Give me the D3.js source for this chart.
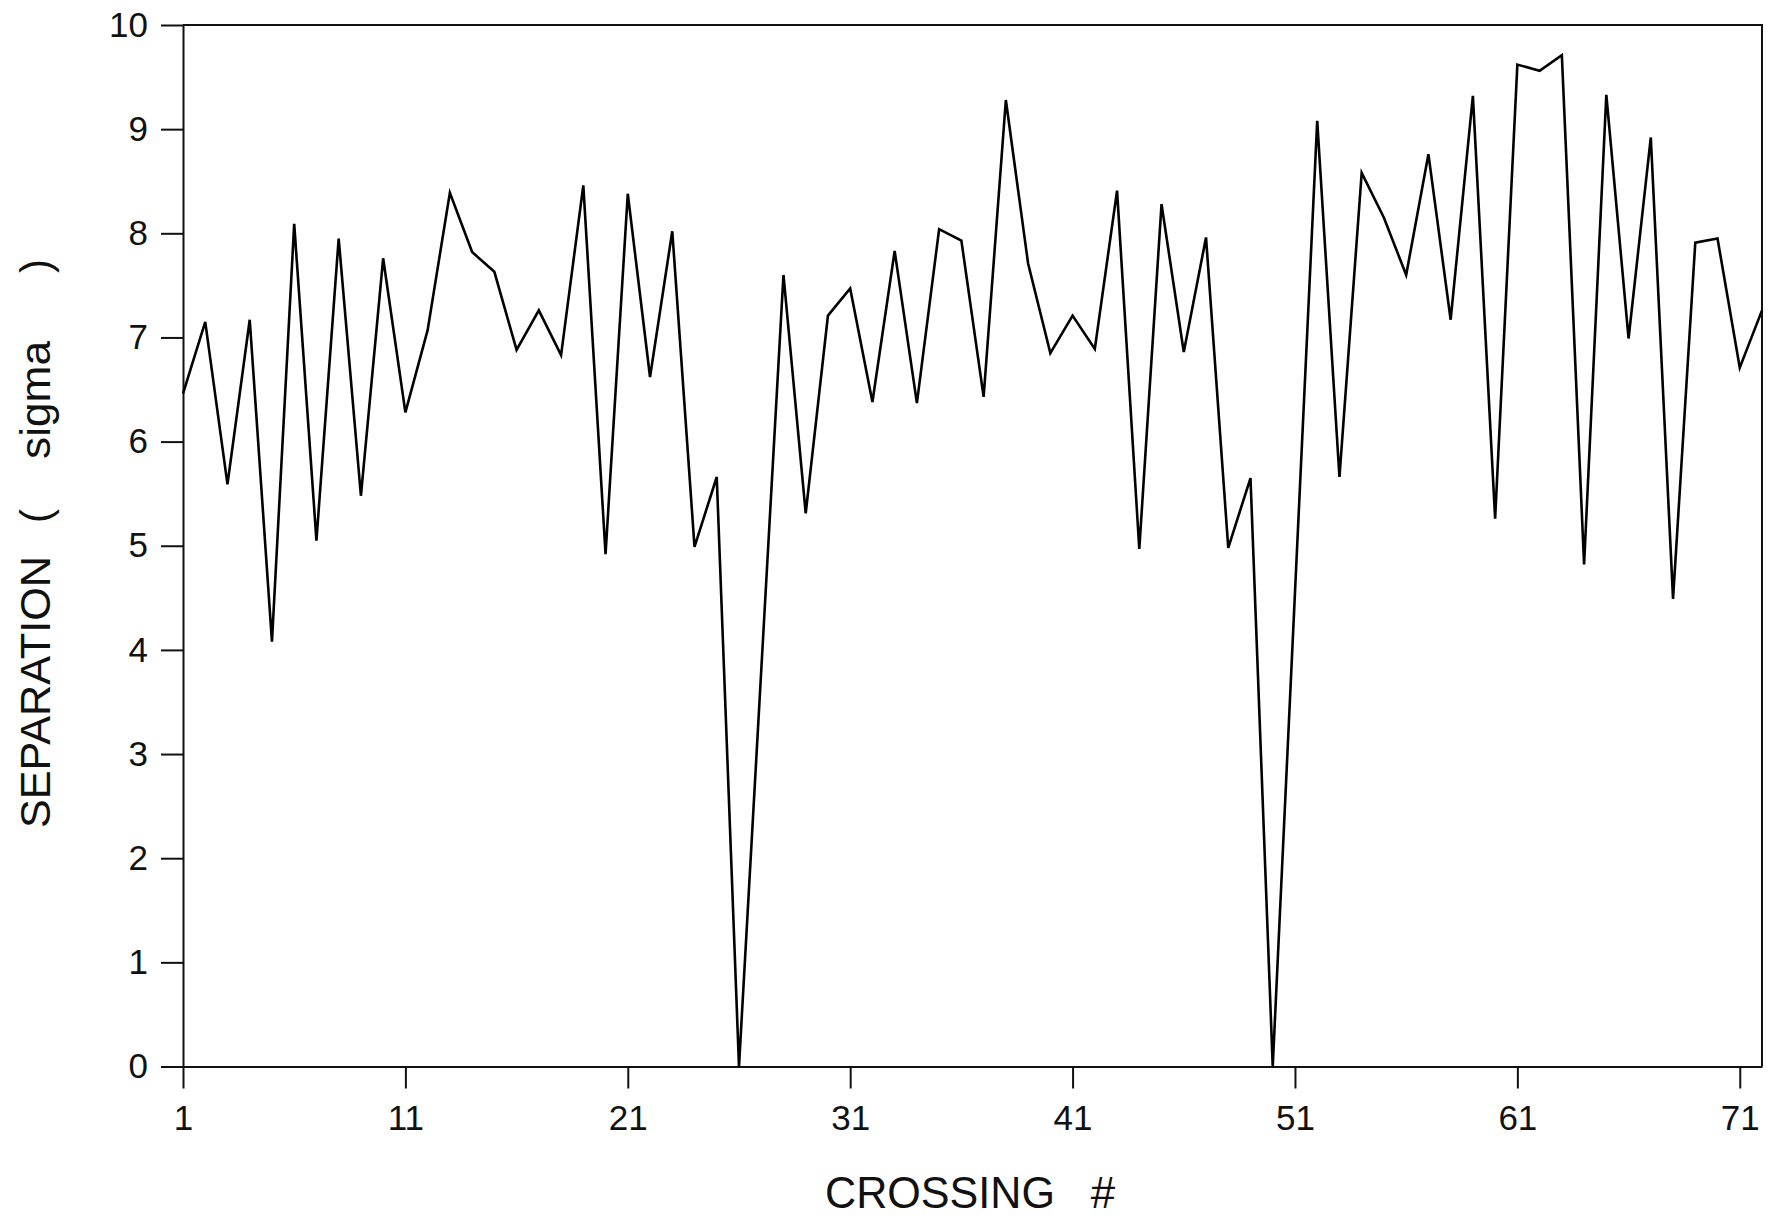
<!DOCTYPE html>
<html>
<head>
<meta charset="utf-8">
<script src="https://cdn.jsdelivr.net/npm/d3@7"></script>
<style>
  html, body { margin: 0; padding: 0; background: #fff; }
  svg { display: block; }
  text { font-family: "Liberation Sans", Arial, sans-serif; fill: #111; }
</style>
</head>
<body>
<svg id="chart" width="1779" height="1218"></svg>
<script>
// Data: crossing number and separation (sigma)
const crossings = d3.range(1, 73);
const separation = [
  6.46, 7.15, 5.59, 7.17, 4.08, 8.09, 5.05, 7.95, 5.48, 7.76,
  6.28, 7.07, 8.39, 7.82, 7.63, 6.88, 7.26, 6.83, 8.46, 4.92,
  8.38, 6.62, 8.02, 4.99, 5.66, 0.00, 3.80, 7.60, 5.31, 7.21,
  7.47, 6.38, 7.83, 6.37, 8.04, 7.93, 6.43, 9.28, 7.71, 6.85,
  7.21, 6.89, 8.41, 4.97, 8.28, 6.86, 7.96, 4.98, 5.65, 0.00,
  4.55, 9.08, 5.66, 8.58, 8.15, 7.60, 8.76, 7.17, 9.32, 5.26,
  9.62, 9.56, 9.71, 4.82, 9.33, 6.99, 8.92, 4.49, 7.91, 7.95,
  6.71, 7.26
];
const xTickValues = [1, 11, 21, 31, 41, 51, 61, 71];
const yTickValues = [0, 1, 2, 3, 4, 5, 6, 7, 8, 9, 10];
const xTitleParts = ["CROSSING", "#"];
const yTitleParts = ["SEPARATION", "(", "sigma", ")"];

const data = crossings.map((c, i) => ({ x: c, y: separation[i] }));

const svg = d3.select("#chart");
const mLeft = 183, mRight = 1762, mTop = 25, mBottom = 1066.5;

const x = d3.scaleLinear().domain([1, 72]).range([mLeft, mRight]);
const y = d3.scaleLinear().domain([0, 10]).range([mBottom, mTop]);

// frame (top and right borders)
svg.append("path")
  .attr("d", `M${mLeft},${mTop}H${mRight}V${mBottom}`)
  .attr("fill", "none").attr("stroke", "#111").attr("stroke-width", 2);

// y axis
const yAxis = svg.append("g")
  .attr("transform", `translate(${mLeft},0)`)
  .call(d3.axisLeft(y).tickValues(yTickValues).tickFormat(d3.format("d"))
    .tickSizeInner(22).tickSizeOuter(0).tickPadding(13));
yAxis.selectAll("text").attr("font-size", 35).attr("font-family", "Liberation Sans, Arial, sans-serif").attr("fill", "#111");
yAxis.selectAll("line, path").attr("stroke", "#111").attr("stroke-width", 2);

// x axis
const xAxis = svg.append("g")
  .attr("transform", `translate(0,${mBottom})`)
  .call(d3.axisBottom(x).tickValues(xTickValues).tickFormat(d3.format("d"))
    .tickSizeInner(22).tickSizeOuter(0).tickPadding(17));
xAxis.selectAll("text").attr("font-size", 35).attr("font-family", "Liberation Sans, Arial, sans-serif").attr("fill", "#111");
xAxis.selectAll("line, path").attr("stroke", "#111").attr("stroke-width", 2);

// data line
const line = d3.line().x(d => x(d.x)).y(d => y(d.y));
svg.append("path")
  .datum(data)
  .attr("d", line)
  .attr("fill", "none")
  .attr("stroke", "#000")
  .attr("stroke-width", 2.6)
  .attr("stroke-linejoin", "miter");

// x title pieces
const xTitleLayout = [
  { cx: 940, len: 230 },
  { cx: 1103, len: null }
];
xTitleParts.forEach((t, i) => {
  const el = svg.append("text")
    .attr("x", xTitleLayout[i].cx).attr("y", 1208)
    .attr("text-anchor", "middle")
    .attr("font-size", 44)
    .text(t);
  if (xTitleLayout[i].len) el.attr("textLength", xTitleLayout[i].len).attr("lengthAdjust", "spacingAndGlyphs");
});

// y title pieces (rotated)
const yTitleLayout = [
  { cy: 692, len: 272 },
  { cy: 516, len: null },
  { cy: 400, len: 118 },
  { cy: 266, len: null }
];
yTitleParts.forEach((t, i) => {
  const el = svg.append("text")
    .attr("transform", `translate(50,${yTitleLayout[i].cy}) rotate(-90)`)
    .attr("text-anchor", "middle")
    .attr("font-size", 42)
    .text(t);
  if (yTitleLayout[i].len) el.attr("textLength", yTitleLayout[i].len).attr("lengthAdjust", "spacingAndGlyphs");
});
</script>
</body>
</html>
